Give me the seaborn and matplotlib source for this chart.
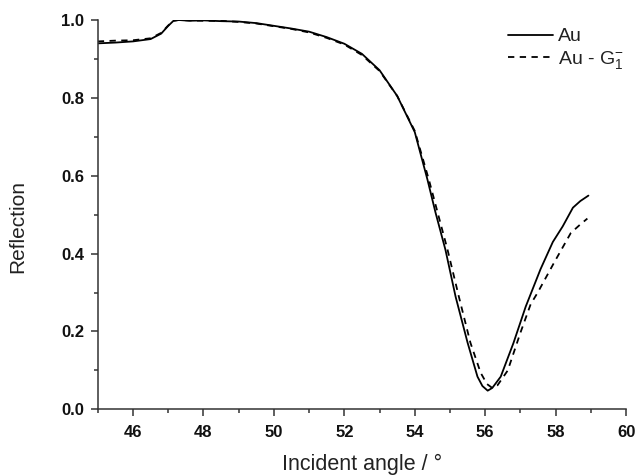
import numpy as np
import pandas as pd
import matplotlib
matplotlib.use("Agg")
import matplotlib.pyplot as plt
import seaborn as sns
from matplotlib.ticker import MultipleLocator, FormatStrFormatter

# Reflectivity of a bare gold film
au_angle = [45.0, 45.5, 46.0, 46.5, 46.8, 47.0, 47.15, 47.3, 47.6, 48.0, 48.5,
            49.0, 49.5, 50.0, 50.5, 51.0, 51.5, 52.0, 52.5, 53.0, 53.5, 54.0,
            54.36, 54.59, 54.87, 55.16, 55.5, 55.78, 55.92, 56.07, 56.2, 56.44,
            56.8, 57.15, 57.57, 57.92, 58.2, 58.49, 58.7, 58.93]
au_refl = [0.940, 0.942, 0.945, 0.951, 0.965, 0.985, 0.998, 1.000, 0.998, 0.999, 0.997,
           0.996, 0.992, 0.985, 0.978, 0.970, 0.956, 0.939, 0.913, 0.871, 0.805, 0.712,
           0.590, 0.505, 0.410, 0.289, 0.171, 0.084, 0.060, 0.048, 0.055, 0.084,
           0.170, 0.264, 0.360, 0.430, 0.470, 0.518, 0.535, 0.549]

# Reflectivity of the gold film carrying the G1- layer
aug_angle = [45.0, 45.5, 46.0, 46.5, 46.8, 47.0, 47.15, 47.3, 47.6, 48.0, 48.5,
             49.0, 49.5, 50.0, 50.5, 51.0, 51.5, 52.0, 52.5, 53.0, 53.5, 54.0,
             54.4, 54.65, 54.93, 55.25, 55.58, 55.87, 56.05, 56.2, 56.35, 56.64,
             57.0, 57.29, 57.49, 57.95, 58.43, 58.7, 58.9]
aug_refl = [0.945, 0.947, 0.948, 0.953, 0.967, 0.986, 0.998, 1.000, 0.999, 0.998, 0.998,
            0.995, 0.991, 0.984, 0.977, 0.968, 0.954, 0.937, 0.910, 0.869, 0.805, 0.715,
            0.590, 0.505, 0.410, 0.290, 0.171, 0.094, 0.065, 0.055, 0.062, 0.100,
            0.197, 0.270, 0.300, 0.376, 0.453, 0.475, 0.490]

series_names = ["Au", "Au - G$_1^{-}$"]
x_ticks = [46, 48, 50, 52, 54, 56, 58, 60]

df = pd.concat([
    pd.DataFrame({"angle": au_angle, "refl": au_refl, "sample": series_names[0]}),
    pd.DataFrame({"angle": aug_angle, "refl": aug_refl, "sample": series_names[1]}),
])

sns.set_style("ticks")
plt.rcParams["font.family"] = ["Liberation Sans", "DejaVu Sans"]
plt.rcParams["mathtext.fontset"] = "custom"
plt.rcParams["mathtext.rm"] = "Liberation Sans"
plt.rcParams["mathtext.it"] = "Liberation Sans"

fig = plt.figure(figsize=(6.35, 4.76), dpi=100)
ax = fig.add_axes([0.154, 0.14, 0.832, 0.818])

sns.lineplot(data=df[df["sample"] == series_names[0]], x="angle", y="refl",
             ax=ax, color="black", lw=1.3, label=series_names[0], sort=False)
sns.lineplot(data=df[df["sample"] == series_names[1]], x="angle", y="refl",
             ax=ax, color="black", lw=1.3, linestyle=(0, (3.5, 3)),
             label=series_names[1], sort=False)

ax.set_xlim(45, 60)
ax.set_ylim(0, 1.0)
ax.set_xticks(x_ticks)
ax.xaxis.set_minor_locator(MultipleLocator(1))
ax.yaxis.set_major_locator(MultipleLocator(0.2))
ax.yaxis.set_minor_locator(MultipleLocator(0.1))
ax.xaxis.set_major_formatter(FormatStrFormatter("%d"))
ax.yaxis.set_major_formatter(FormatStrFormatter("%.1f"))

for sp in ["top", "right"]:
    ax.spines[sp].set_visible(False)
for sp in ["left", "bottom"]:
    ax.spines[sp].set_linewidth(1.1)
    ax.spines[sp].set_color("#333333")

ax.tick_params(which="major", direction="out", length=5, width=1.1,
               color="#333333", labelsize=12, labelcolor="#111111")
ax.tick_params(axis="y", which="major", pad=5)
ax.tick_params(axis="x", which="major", pad=6)
ax.tick_params(which="minor", direction="out", length=3, width=1.1, color="#333333")
for lab in ax.get_xticklabels() + ax.get_yticklabels():
    lab.set_fontweight("bold")

ax.set_xlabel("Incident angle / °", fontsize=15.5, labelpad=10, color="#222222")
ax.set_ylabel("Reflection", fontsize=15, color="#222222")
ax.yaxis.set_label_coords(-0.133, 0.47)

leg = ax.legend(loc="upper right", bbox_to_anchor=(1.0, 0.985), frameon=False,
                fontsize=14, handlelength=2.3, handletextpad=0.3,
                labelspacing=0.2, borderpad=0.1, borderaxespad=0.0)
for t in leg.get_texts():
    t.set_color("#222222")

fig.savefig("out.png", dpi=100)
